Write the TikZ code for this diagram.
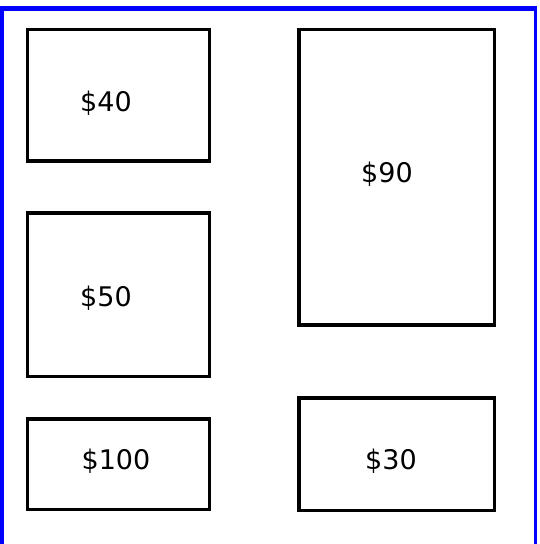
\documentclass[tikz,border=0pt]{standalone}
\usepackage{fontspec}
\setmainfont{DejaVu Sans}
\begin{document}
\begin{tikzpicture}[x=1pt,y=-1pt,
  box/.style={draw=black,line width=3.4pt,fill=white},
  price/.style={font=\fontsize{27}{31}\selectfont,inner sep=0pt,anchor=base,text=black},
  frame/.style={fill=blue}]
\useasboundingbox (0,0) rectangle (539,544);
\fill[white] (0,0) rectangle (539,544);
% blue frame (left, top, right)
\fill[frame] (0,6) rectangle (4,544);
\fill[frame] (0,6) rectangle (537,11);
\fill[frame] (534,6) rectangle (537,544);
% boxes
\draw[box] (27.5,29.5) rectangle (209.5,161) node[pos=.5] (b40) {};
\draw[box] (27.5,213) rectangle (209.5,376.5) node[pos=.5] (b50) {};
\draw[box] (27.5,419) rectangle (209.5,509.5) node[pos=.5] (b100) {};
\draw[box] (299,29.5) rectangle (494.5,325) node[pos=.5] (b90) {};
\draw[box] (299,398) rectangle (494.5,510.5) node[pos=.5] (b30) {};
% labels
\node[price] (t40) at (106,111) {\$40};
\node[price] (t50) at (106,306) {\$50};
\node[price] (t100) at (116,469) {\$100};
\node[price] (t90) at (387,182) {\$90};
\node[price] (t30) at (391,469) {\$30};
\end{tikzpicture}
\end{document}
